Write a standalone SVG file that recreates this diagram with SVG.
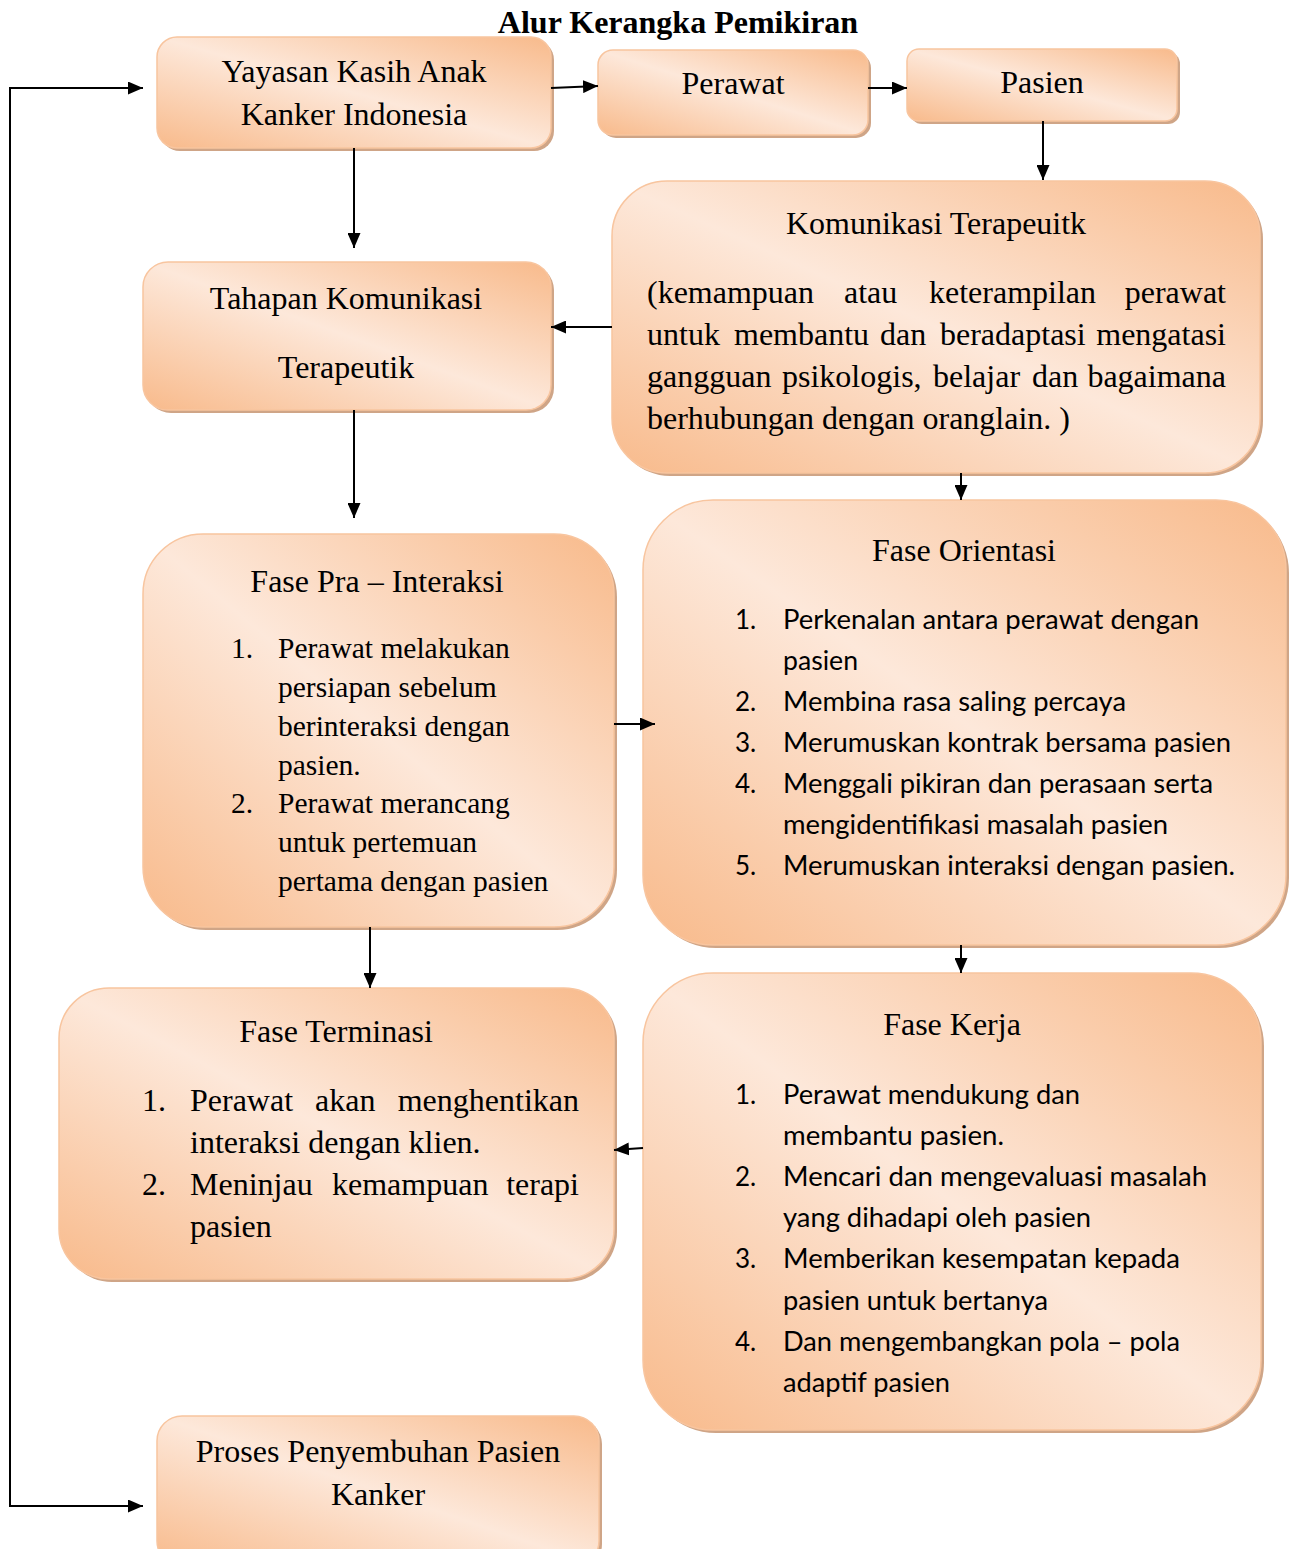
<svg xmlns="http://www.w3.org/2000/svg" width="1289" height="1549" viewBox="0 0 1289 1549">
<defs>
<linearGradient id="g" x1="1" y1="0" x2="0" y2="1">
<stop offset="0" stop-color="#F8BA8B"/>
<stop offset="0.5" stop-color="#FDE8DA"/>
<stop offset="1" stop-color="#F8BA8B"/>
</linearGradient>
<marker id="ah" markerWidth="15" markerHeight="13" refX="15" refY="6.5" orient="auto" markerUnits="userSpaceOnUse">
<path d="M0,0 L15,6.5 L0,13 z" fill="#000"/>
</marker>
</defs>
<style>
.sh{fill:#CFA587}
.bx{fill:url(#g);stroke:#F8C59F;stroke-width:1.5}
.t{font-family:"Liberation Serif","Times New Roman",serif;font-size:32px;fill:#000}
.tb{font-family:"Liberation Serif","Times New Roman",serif;font-size:32px;font-weight:bold;fill:#000}
.p{font-family:"Liberation Serif","Times New Roman",serif;font-size:29.5px;fill:#000}
.c{font-family:Lato,"Open Sans",sans-serif;font-size:26px;fill:#000}
.m{text-anchor:middle}
.e{text-anchor:end}
.cn line,.cn path{stroke:#000;stroke-width:2;fill:none}
</style>
<rect width="1289" height="1549" fill="#fff"/>
<text class="tb m" x="678" y="33">Alur Kerangka Pemikiran</text>

<g id="n-yayasan">
<rect class="sh" x="160" y="40" width="394" height="111" rx="20"/>
<rect class="bx" x="157" y="37" width="394" height="111" rx="20"/>
<text class="t m" x="354" y="82">Yayasan Kasih Anak</text>
<text class="t m" x="354" y="125">Kanker Indonesia</text>
</g>
<g id="n-perawat">
<rect class="sh" x="601" y="53" width="270" height="85" rx="15"/>
<rect class="bx" x="598" y="50" width="270" height="85" rx="15"/>
<text class="t m" x="733" y="94">Perawat</text>
</g>
<g id="n-pasien">
<rect class="sh" x="910" y="52" width="270" height="72" rx="12"/>
<rect class="bx" x="907" y="49" width="270" height="72" rx="12"/>
<text class="t m" x="1042" y="93">Pasien</text>
</g>
<g id="n-komunikasi">
<rect class="sh" x="615" y="184" width="648" height="292" rx="55"/>
<rect class="bx" x="612" y="181" width="648" height="292" rx="55"/>
<text class="t m" x="936" y="234">Komunikasi Terapeuitk</text>
<text class="t" x="647" y="303">(kemampuan</text>
<text class="t" x="844" y="303">atau</text>
<text class="t" x="929" y="303">keterampilan</text>
<text class="t e" x="1226" y="303">perawat</text>
<text class="t" x="647" y="345">untuk</text>
<text class="t" x="734" y="345">membantu</text>
<text class="t" x="880" y="345">dan</text>
<text class="t" x="940" y="345">beradaptasi</text>
<text class="t e" x="1226" y="345">mengatasi</text>
<text class="t" x="647" y="387">gangguan</text>
<text class="t" x="782" y="387">psikologis,</text>
<text class="t" x="933" y="387">belajar</text>
<text class="t" x="1032" y="387">dan</text>
<text class="t e" x="1226" y="387">bagaimana</text>
<text class="t" x="647" y="429">berhubungan dengan oranglain. )</text>
</g>
<g id="n-tahapan">
<rect class="sh" x="146" y="265" width="408" height="148" rx="25"/>
<rect class="bx" x="143" y="262" width="408" height="148" rx="25"/>
<text class="t m" x="346" y="309">Tahapan Komunikasi</text>
<text class="t m" x="346" y="378">Terapeutik</text>
</g>
<g id="n-pra">
<rect class="sh" x="146" y="537" width="471" height="393" rx="60"/>
<rect class="bx" x="143" y="534" width="471" height="393" rx="60"/>
<text class="t m" x="377" y="592">Fase Pra – Interaksi</text>
<text class="p" x="231" y="658">1.</text>
<text class="p" x="278" y="658">Perawat melakukan</text>
<text class="p" x="278" y="697">persiapan sebelum</text>
<text class="p" x="278" y="736">berinteraksi dengan</text>
<text class="p" x="278" y="775">pasien.</text>
<text class="p" x="231" y="813">2.</text>
<text class="p" x="278" y="813">Perawat merancang</text>
<text class="p" x="278" y="852">untuk pertemuan</text>
<text class="p" x="278" y="891">pertama dengan pasien</text>
</g>
<g id="n-orientasi">
<rect class="sh" x="646" y="503" width="643" height="445" rx="70"/>
<rect class="bx" x="643" y="500" width="643" height="445" rx="70"/>
<text class="t m" x="964" y="561">Fase Orientasi</text>
<text class="c" x="735" y="629">1.</text>
<text class="c" x="783" y="629" textLength="416" lengthAdjust="spacingAndGlyphs">Perkenalan antara perawat dengan</text>
<text class="c" x="783" y="670" textLength="75" lengthAdjust="spacingAndGlyphs">pasien</text>
<text class="c" x="735" y="711">2.</text>
<text class="c" x="783" y="711" textLength="343" lengthAdjust="spacingAndGlyphs">Membina rasa saling percaya</text>
<text class="c" x="735" y="752">3.</text>
<text class="c" x="783" y="752" textLength="448" lengthAdjust="spacingAndGlyphs">Merumuskan kontrak bersama pasien</text>
<text class="c" x="735" y="793">4.</text>
<text class="c" x="783" y="793" textLength="430" lengthAdjust="spacingAndGlyphs">Menggali pikiran dan perasaan serta</text>
<text class="c" x="783" y="834" textLength="385" lengthAdjust="spacingAndGlyphs">mengidentifikasi masalah pasien</text>
<text class="c" x="735" y="875">5.</text>
<text class="c" x="783" y="875" textLength="452" lengthAdjust="spacingAndGlyphs">Merumuskan interaksi dengan pasien.</text>
</g>
<g id="n-kerja">
<rect class="sh" x="646" y="976" width="618" height="457" rx="70"/>
<rect class="bx" x="643" y="973" width="618" height="457" rx="70"/>
<text class="t m" x="952" y="1035">Fase Kerja</text>
<text class="c" x="735" y="1104">1.</text>
<text class="c" x="783" y="1104" textLength="297" lengthAdjust="spacingAndGlyphs">Perawat mendukung dan</text>
<text class="c" x="783" y="1145" textLength="221" lengthAdjust="spacingAndGlyphs">membantu pasien.</text>
<text class="c" x="735" y="1186">2.</text>
<text class="c" x="783" y="1186" textLength="424" lengthAdjust="spacingAndGlyphs">Mencari dan mengevaluasi masalah</text>
<text class="c" x="783" y="1227" textLength="308" lengthAdjust="spacingAndGlyphs">yang dihadapi oleh pasien</text>
<text class="c" x="735" y="1268">3.</text>
<text class="c" x="783" y="1268" textLength="397" lengthAdjust="spacingAndGlyphs">Memberikan kesempatan kepada</text>
<text class="c" x="783" y="1310" textLength="265" lengthAdjust="spacingAndGlyphs">pasien untuk bertanya</text>
<text class="c" x="735" y="1351">4.</text>
<text class="c" x="783" y="1351" textLength="397" lengthAdjust="spacingAndGlyphs">Dan mengembangkan pola – pola</text>
<text class="c" x="783" y="1392" textLength="167" lengthAdjust="spacingAndGlyphs">adaptif pasien</text>
</g>
<g id="n-terminasi">
<rect class="sh" x="62" y="991" width="555" height="291" rx="50"/>
<rect class="bx" x="59" y="988" width="555" height="291" rx="50"/>
<text class="t m" x="336" y="1042">Fase Terminasi</text>
<text class="t" x="142" y="1111">1.</text>
<text class="t" x="190" y="1111">Perawat</text>
<text class="t" x="315" y="1111">akan</text>
<text class="t e" x="579" y="1111">menghentikan</text>
<text class="t" x="190" y="1153">interaksi dengan klien.</text>
<text class="t" x="142" y="1195">2.</text>
<text class="t" x="190" y="1195">Meninjau</text>
<text class="t" x="332" y="1195">kemampuan</text>
<text class="t e" x="579" y="1195">terapi</text>
<text class="t" x="190" y="1237">pasien</text>
</g>
<g id="n-proses">
<rect class="sh" x="160" y="1419" width="442" height="150" rx="25"/>
<rect class="bx" x="157" y="1416" width="442" height="150" rx="25"/>
<text class="t m" x="378" y="1462">Proses Penyembuhan Pasien</text>
<text class="t m" x="378" y="1505">Kanker</text>
</g>

<g id="connectors" class="cn">
<line x1="551" y1="88" x2="598" y2="86" marker-end="url(#ah)"/>
<line x1="868" y1="88" x2="907" y2="88" marker-end="url(#ah)"/>
<line x1="1043" y1="121" x2="1043" y2="180" marker-end="url(#ah)"/>
<line x1="354" y1="148" x2="354" y2="248" marker-end="url(#ah)"/>
<line x1="612" y1="327" x2="551" y2="327" marker-end="url(#ah)"/>
<line x1="354" y1="410" x2="354" y2="518" marker-end="url(#ah)"/>
<line x1="961" y1="473" x2="961" y2="500" marker-end="url(#ah)"/>
<line x1="614" y1="724" x2="655" y2="724" marker-end="url(#ah)"/>
<line x1="961" y1="945" x2="961" y2="973" marker-end="url(#ah)"/>
<line x1="370" y1="927" x2="370" y2="988" marker-end="url(#ah)"/>
<line x1="643" y1="1148" x2="614" y2="1150" marker-end="url(#ah)"/>
<line x1="10" y1="1506" x2="10" y2="88"/>
<line x1="9" y1="88" x2="143" y2="88" marker-end="url(#ah)"/>
<line x1="9" y1="1506" x2="143" y2="1506" marker-end="url(#ah)"/>
</g>
</svg>
